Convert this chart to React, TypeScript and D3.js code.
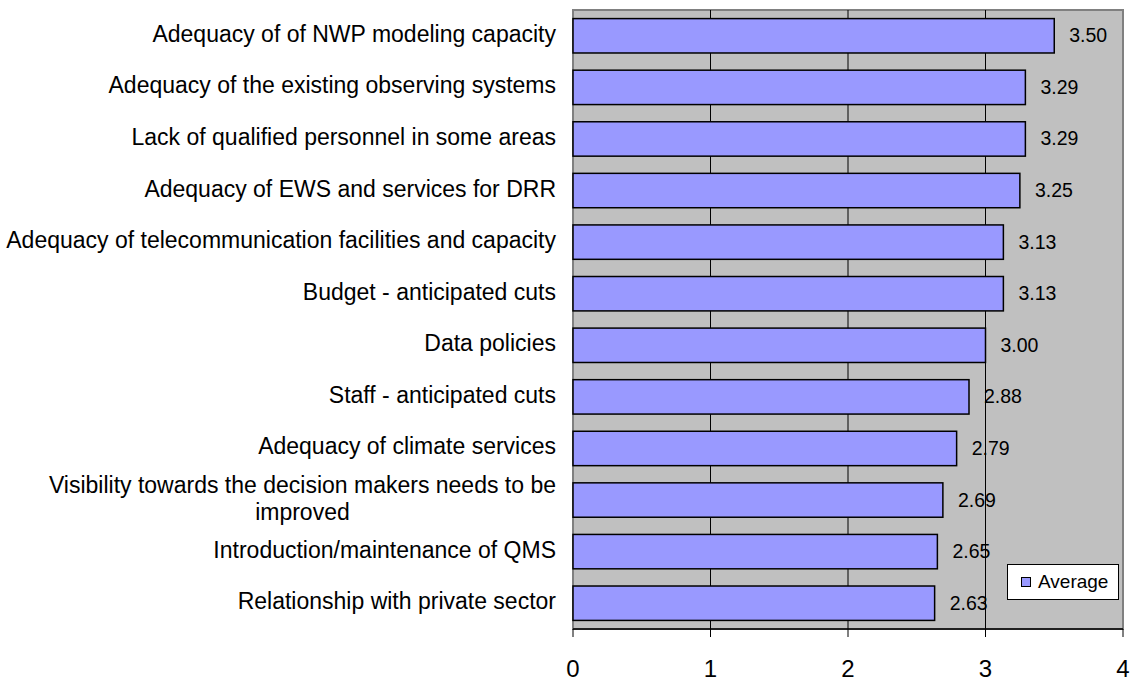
import React, { useEffect, useRef } from "react";
import * as d3 from "d3";

const categories: string[] = [
  "Adequacy of of NWP modeling capacity",
  "Adequacy of the existing observing systems",
  "Lack of qualified personnel in some areas",
  "Adequacy of EWS and services for DRR",
  "Adequacy of telecommunication facilities and capacity",
  "Budget - anticipated cuts",
  "Data policies",
  "Staff - anticipated cuts",
  "Adequacy of climate services",
  "Visibility towards the decision makers needs to be improved",
  "Introduction/maintenance of QMS",
  "Relationship with private sector",
];

const averages: number[] = [3.5, 3.29, 3.29, 3.25, 3.13, 3.13, 3.0, 2.88, 2.79, 2.69, 2.65, 2.63];

const xTicks: number[] = [0, 1, 2, 3, 4];

const seriesName = "Average";

const W = 1135;
const H = 683;
const plotLeft = 573;
const plotRight = 1123;
const plotTop = 10;
const plotBottom = 629;
const barColor = "#9999FF";
const font = "'Liberation Sans', Arial, sans-serif";

export default function App() {
  const ref = useRef<SVGSVGElement>(null);

  useEffect(() => {
    const svg = d3.select(ref.current);
    svg.selectAll("*").remove();

    const x = d3.scaleLinear().domain([0, 4]).range([plotLeft, plotRight]);
    const y = d3
      .scaleBand<string>()
      .domain(categories)
      .range([plotTop, plotBottom])
      .paddingInner(1 / 3)
      .paddingOuter(1 / 6);

    // plot background
    svg
      .append("rect")
      .attr("x", plotLeft)
      .attr("y", plotTop)
      .attr("width", plotRight - plotLeft)
      .attr("height", plotBottom - plotTop)
      .attr("fill", "#C0C0C0")
      .attr("stroke", "#808080")
      .attr("stroke-width", 2);

    // gridlines
    svg
      .append("g")
      .selectAll("line")
      .data(xTicks.filter((t) => t > 0 && t < 4))
      .join("line")
      .attr("x1", (d) => x(d))
      .attr("x2", (d) => x(d))
      .attr("y1", plotTop)
      .attr("y2", plotBottom)
      .attr("stroke", "#000")
      .attr("stroke-width", 1);

    // bars
    svg
      .append("g")
      .selectAll("rect")
      .data(averages)
      .join("rect")
      .attr("x", x(0))
      .attr("y", (_d, i) => y(categories[i])!)
      .attr("width", (d) => x(d) - x(0))
      .attr("height", y.bandwidth())
      .attr("fill", barColor)
      .attr("stroke", "#000")
      .attr("stroke-width", 1.5);

    // value labels
    svg
      .append("g")
      .selectAll("text")
      .data(averages)
      .join("text")
      .attr("x", (d) => x(d) + 15)
      .attr("y", (_d, i) => y(categories[i])! + y.bandwidth() / 2 + 6.5)
      .attr("font-family", font)
      .attr("font-size", 19.5)
      .attr("fill", "#000")
      .text((d) => d.toFixed(2));

    // x axis line and ticks
    svg
      .append("line")
      .attr("x1", plotLeft)
      .attr("x2", plotRight)
      .attr("y1", plotBottom)
      .attr("y2", plotBottom)
      .attr("stroke", "#000")
      .attr("stroke-width", 1.5);
    svg
      .append("g")
      .selectAll("line")
      .data(xTicks)
      .join("line")
      .attr("x1", (d) => x(d))
      .attr("x2", (d) => x(d))
      .attr("y1", plotBottom)
      .attr("y2", plotBottom + 8)
      .attr("stroke", "#000")
      .attr("stroke-width", 1);
    svg
      .append("g")
      .selectAll("text")
      .data(xTicks)
      .join("text")
      .attr("x", (d) => x(d))
      .attr("y", 677)
      .attr("text-anchor", "middle")
      .attr("font-family", font)
      .attr("font-size", 24)
      .attr("fill", "#000")
      .text((d) => String(d));

    // category labels with wrapping
    const labelRight = 556;
    const maxWidth = 562;
    const lineGap = 27;
    const gLab = svg.append("g");
    categories.forEach((cat) => {
      const cy = y(cat)! + y.bandwidth() / 2;
      const t = gLab
        .append("text")
        .attr("font-family", font)
        .attr("font-size", 23)
        .attr("fill", "#000");
      const words = cat.split(" ");
      const lines: string[] = [];
      let cur = "";
      const probe = t.append("tspan");
      words.forEach((w) => {
        const test = cur ? cur + " " + w : w;
        probe.text(test);
        const len = (probe.node() as SVGTextContentElement).getComputedTextLength();
        if (len > maxWidth && cur) {
          lines.push(cur);
          cur = w;
        } else {
          cur = test;
        }
      });
      lines.push(cur);
      probe.remove();
      if (lines.length === 1) {
        t.attr("text-anchor", "end")
          .attr("x", labelRight)
          .attr("y", cy + 6)
          .text(lines[0]);
      } else {
        let maxW = 0;
        lines.forEach((l) => {
          const p = t.append("tspan").text(l);
          maxW = Math.max(maxW, (p.node() as SVGTextContentElement).getComputedTextLength());
          p.remove();
        });
        const cx = labelRight - maxW / 2;
        const first = cy + 6 - ((lines.length - 1) * lineGap) / 2;
        t.attr("text-anchor", "middle");
        lines.forEach((l, i) => {
          t.append("tspan")
            .attr("x", cx)
            .attr("y", first + i * lineGap)
            .text(l);
        });
      }
    });

    // legend
    const lg = svg.append("g");
    lg.append("rect")
      .attr("x", 1007.5)
      .attr("y", 564.5)
      .attr("width", 111)
      .attr("height", 35)
      .attr("fill", "#fff")
      .attr("stroke", "#000")
      .attr("stroke-width", 1);
    lg.append("rect")
      .attr("x", 1021.5)
      .attr("y", 577.5)
      .attr("width", 9)
      .attr("height", 9)
      .attr("fill", barColor)
      .attr("stroke", "#000")
      .attr("stroke-width", 1);
    lg.append("text")
      .attr("x", 1038)
      .attr("y", 588)
      .attr("font-family", font)
      .attr("font-size", 19)
      .attr("fill", "#000")
      .text(seriesName);
  }, []);

  return (
    <svg
      ref={ref}
      width={W}
      height={H}
      style={{ position: "absolute", left: 0, top: 0, background: "#fff" }}
    />
  );
}
